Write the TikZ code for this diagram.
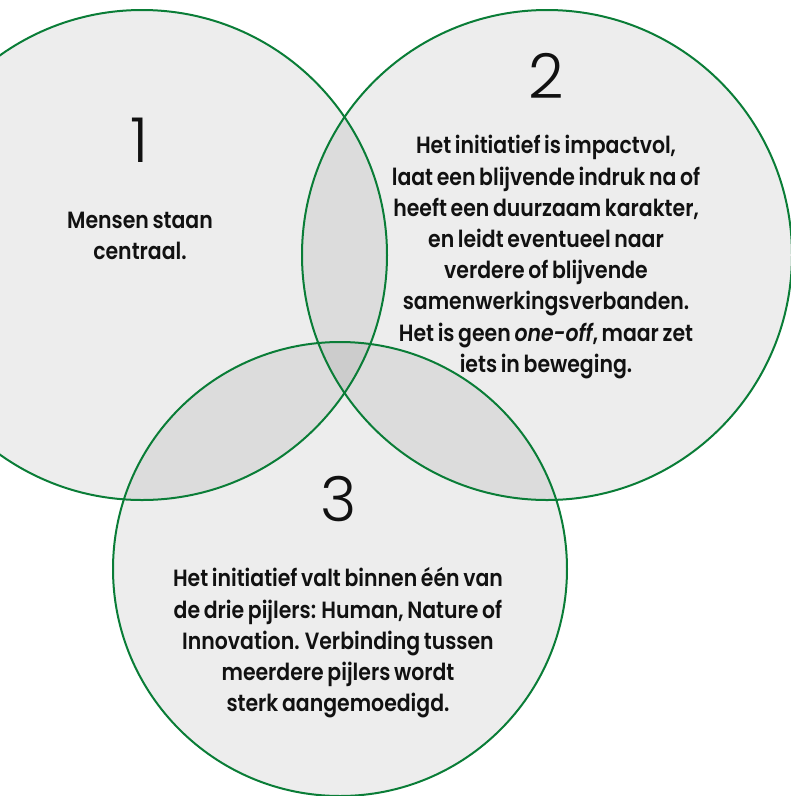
\documentclass[tikz,border=0pt]{standalone}
\usepackage{fontspec}
\newfontfamily\tekstfont{Poppins SemiBold}[FakeStretch=0.87,WordSpace=0.75,ItalicFont={Poppins SemiBold Italic}]
\newfontfamily\cijferfont{Poppins Light}
\definecolor{pijlergroen}{RGB}{10,125,55}
\definecolor{tekstzwart}{RGB}{17,17,17}

\tikzset{
  pijler/.style={circle, fill=black, fill opacity=0.07, inner sep=0pt},
  rand/.style={draw=pijlergroen, line width=2pt},
  cijfer/.style={text=tekstzwart, font=\cijferfont\fontsize{62}{62}\selectfont},
  uitleg/.style={text=tekstzwart, align=center, font=\tekstfont\fontsize{23.5}{31.2}\selectfont}
}

\begin{document}
\begin{tikzpicture}[x=1pt,y=-1pt]
	\useasboundingbox (0,0) rectangle (791,796);
	
	% de drie cirkels
	\node[pijler, minimum size=490pt] (c1) at (142,255) {};
	\node[pijler, minimum size=490pt] (c2) at (547,255) {};
	\node[pijler, minimum size=454pt] (c3) at (340,569) {};
	\draw[rand] (c1.center) circle (245);
	\draw[rand] (c2.center) circle (245);
	\draw[rand] (c3.center) circle (227);
	
	% nummers
	\node[cijfer] (n1) at (140,140) {1};
	\node[cijfer] (n2) at (546,76) {2};
	\node[cijfer] (n3) at (339,499) {3};
	
	% teksten
	\node[uitleg] (t1) at (140,236) {Mensen staan\\centraal.};
	\node[uitleg] (t2) at (546,257) {Het initiatief is impactvol,\\laat een blijvende indruk na of\\heeft een duurzaam karakter,\\en leidt eventueel naar\\verdere of blijvende\\samenwerkingsverbanden.\\Het is geen \textit{one-off}, maar zet\\iets in beweging.};
	\node[uitleg] (t3) at (338,643) {Het initiatief valt binnen één van\\de drie pijlers: Human, Nature of\\Innovation. Verbinding tussen\\meerdere pijlers wordt\\sterk aangemoedigd.};
\end{tikzpicture}
\end{document}
